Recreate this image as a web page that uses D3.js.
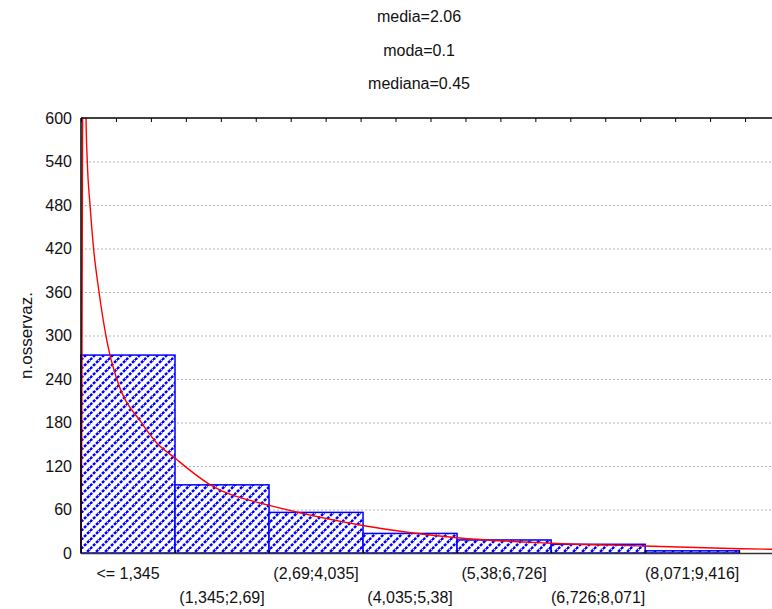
<!DOCTYPE html>
<html>
<head>
<meta charset="utf-8">
<script src="https://cdn.jsdelivr.net/npm/d3@7"></script>
<style>
  body { margin: 0; background: #fff; }
  text { font-family: "Liberation Sans", Arial, sans-serif; fill: #111; }
</style>
</head>
<body>
<svg id="chart" width="772" height="609"></svg>
<script>
// histogram bins (class edges) and counts
var binEdges = [0, 1.345, 2.69, 4.035, 5.38, 6.726, 8.071, 9.416];
var binLabels = ["<= 1,345", "(1,345;2,69]", "(2,69;4,035]", "(4,035;5,38]",
                 "(5,38;6,726]", "(6,726;8,071]", "(8,071;9,416]"];
var counts = [273, 94, 56, 27, 18, 12, 3];

var yTicks = [0, 60, 120, 180, 240, 300, 360, 420, 480, 540, 600];
var topTicks = [0, 0.5, 1, 1.5, 2, 2.5, 3, 3.5, 4, 4.5, 5, 5.5, 6, 6.5, 7, 7.5,
                8, 8.5, 9, 9.5, 10];

// fitted density curve
var curveX = [0, 0.01, 0.02, 0.03, 0.045, 0.06, 0.072, 0.09, 0.129, 0.18, 0.258,
              0.368, 0.415, 0.515, 0.87, 1.08, 1.345, 1.56, 1.85, 2.56, 2.68,
              4.03, 5.38, 6.72, 8.07, 9.43, 10.2];
var curveY = [0, 150, 500, 800, 900, 750, 600, 540, 480, 420, 360,
              294, 273, 239, 179, 152, 131, 114, 94, 69, 66,
              38, 21, 13.4, 9.7, 5.9, 4.5];

var titles = ["media=2.06", "moda=0.1", "mediana=0.45"];
var yTitle = "n.osservaz.";

var margin = {left: 81, top: 118, bottom: 553};
var svg = d3.select("#chart");

var x = d3.scaleLinear().domain([0, 10.2]).range([margin.left, margin.left + 10.2 * 69.9]);
var y = d3.scaleLinear().domain([0, 600]).range([margin.bottom, margin.top]);
var right = x(10.2);

var defs = svg.append("defs");
defs.append("clipPath").attr("id", "clip")
  .append("rect")
  .attr("x", margin.left).attr("y", margin.top)
  .attr("width", right - margin.left).attr("height", margin.bottom - margin.top);

var pat = defs.append("pattern")
  .attr("id", "hatch")
  .attr("patternUnits", "userSpaceOnUse")
  .attr("width", 9).attr("height", 9);
pat.append("rect").attr("width", 9).attr("height", 9).attr("fill", "#fff");
pat.append("path")
  .attr("d", "M-2,2 L2,-2 M0,9 L9,0 M7,11 L11,7")
  .attr("stroke", "#0000ff")
  .attr("stroke-width", 2.5)
  .attr("stroke-dasharray", "3,1.3");

// titles
svg.selectAll(".title").data(titles).enter().append("text")
  .attr("class", "title")
  .attr("x", 419)
  .attr("y", function(d, i) { return 22 + i * 33.5; })
  .attr("text-anchor", "middle")
  .style("font-size", "16px")
  .text(function(d) { return d; });

// grid
svg.append("g").selectAll("line").data(yTicks.filter(function(d) { return d > 0 && d < 600; }))
  .enter().append("line")
  .attr("x1", margin.left).attr("x2", right)
  .attr("y1", function(d) { return y(d) + 0.5; })
  .attr("y2", function(d) { return y(d) + 0.5; })
  .attr("stroke", "#b4b4b4")
  .attr("stroke-width", 1)
  .attr("stroke-dasharray", "2,2");

// bars
svg.append("g").selectAll("rect").data(counts).enter().append("rect")
  .attr("x", function(d, i) { return x(binEdges[i]); })
  .attr("y", function(d) { return y(d); })
  .attr("width", function(d, i) { return x(binEdges[i + 1]) - x(binEdges[i]); })
  .attr("height", function(d) { return y(0) - y(d); })
  .attr("fill", "url(#hatch)")
  .attr("stroke", "#0000ff")
  .attr("stroke-width", 1.5);

// curve
var line = d3.line()
  .x(function(d) { return x(d[0]); })
  .y(function(d) { return y(d[1]); })
  .curve(d3.curveMonotoneX);
svg.append("path")
  .datum(curveX.map(function(v, i) { return [v, curveY[i]]; }))
  .attr("clip-path", "url(#clip)")
  .attr("d", line)
  .attr("fill", "none")
  .attr("stroke", "#ff0000")
  .attr("stroke-width", 1.4);

// frame
svg.append("line").attr("x1", margin.left).attr("x2", margin.left)
  .attr("y1", margin.top).attr("y2", margin.bottom)
  .attr("stroke", "#000").attr("stroke-width", 1.5);
svg.append("line").attr("x1", margin.left).attr("x2", right)
  .attr("y1", margin.top).attr("y2", margin.top)
  .attr("stroke", "#000").attr("stroke-width", 1.5);
svg.append("line").attr("x1", margin.left).attr("x2", right)
  .attr("y1", margin.bottom + 0.5).attr("y2", margin.bottom + 0.5)
  .attr("stroke", "#333").attr("stroke-width", 1.5);

// top axis ticks (inside)
var topAxis = d3.axisTop(x).tickValues(topTicks).tickSize(-4).tickFormat("");
var gt = svg.append("g").attr("transform", "translate(0," + margin.top + ")").call(topAxis);
gt.select(".domain").remove();
gt.selectAll(".tick line").attr("stroke", "#000");

// bottom ticks at bin edges
var botAxis = d3.axisBottom(x).tickValues(binEdges).tickSize(-3).tickFormat("");
var gb = svg.append("g").attr("transform", "translate(0," + margin.bottom + ")").call(botAxis);
gb.select(".domain").remove();
gb.selectAll(".tick line").attr("stroke", "#000");

// y labels
svg.append("g").selectAll("text").data(yTicks).enter().append("text")
  .attr("x", 72)
  .attr("y", function(d) { return y(d); })
  .attr("dy", "0.36em")
  .attr("text-anchor", "end")
  .style("font-size", "16px")
  .text(function(d) { return d; });

svg.append("text")
  .attr("transform", "translate(32," + ((margin.top + margin.bottom) / 2) + ") rotate(-90)")
  .attr("text-anchor", "middle")
  .style("font-size", "17px")
  .text(yTitle);

// bin labels, staggered on two rows
svg.append("g").selectAll("text").data(binLabels).enter().append("text")
  .attr("x", function(d, i) { return (x(binEdges[i]) + x(binEdges[i + 1])) / 2; })
  .attr("y", function(d, i) { return i % 2 == 0 ? 579 : 603; })
  .attr("text-anchor", "middle")
  .style("font-size", "16px")
  .text(function(d) { return d; });
</script>
</body>
</html>
